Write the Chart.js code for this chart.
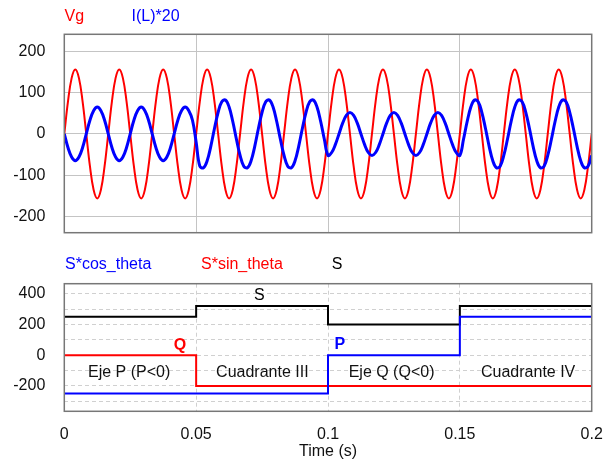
<!DOCTYPE html>
<html>
<head>
<meta charset="utf-8">
<script src="https://cdn.jsdelivr.net/npm/chart.js@4"></script>
<style>
  body { margin: 0; background: #fff; }
  canvas { position: absolute; left: 0; }
  #top { top: 0; }
  #bottom { top: 245px; }
</style>
</head>
<body>
<canvas id="top" width="611" height="245"></canvas>
<canvas id="bottom" width="611" height="219"></canvas>

<script>
// waveforms, 12 samples per 60 Hz cycle
const SAMPLE_RATE = 720; // samples per second
const VG = [
  0, 78, 135, 156, 135, 78, 0, -78, -135, -156, -135, -78,
  0, 78, 135, 156, 135, 78, 0, -78, -135, -156, -135, -78,
  0, 78, 135, 156, 135, 78, 0, -78, -135, -156, -135, -78,
  0, 78, 135, 156, 135, 78, 0, -78, -135, -156, -135, -78,
  0, 78, 135, 156, 135, 78, 0, -78, -135, -156, -135, -78,
  0, 78, 135, 156, 135, 78, 0, -78, -135, -156, -135, -78,
  0, 78, 135, 156, 135, 78, 0, -78, -135, -156, -135, -78,
  0, 78, 135, 156, 135, 78, 0, -78, -135, -156, -135, -78,
  0, 78, 135, 156, 135, 78, 0, -78, -135, -156, -135, -78,
  0, 78, 135, 156, 135, 78, 0, -78, -135, -156, -135, -78,
  0, 78, 135, 156, 135, 78, 0, -78, -135, -156, -135, -78,
  0, 78, 135, 156, 135, 78, 0, -78, -135, -156, -135, -78,
  0
];
const IL20 = [
  0, -33, -56, -65, -56, -33, 0, 33, 56, 65, 56, 33,
  0, -33, -56, -65, -56, -33, 0, 33, 56, 65, 56, 33,
  0, -33, -56, -65, -56, -33, 0, 33, 56, 65, 56, 33,
  -20, -78, -82, -65, -30, 13, 52, 78, 82, 65, 30, -13,
  -52, -78, -82, -65, -30, 13, 52, 78, 82, 65, 30, -13,
  -52, -78, -82, -65, -30, 13, 52, 78, 82, 65, 30, -13,
  -52, -45, -26, 0, 26, 45, 52, 45, 26, 0, -26, -45,
  -52, -45, -26, 0, 26, 45, 52, 45, 26, 0, -26, -45,
  -52, -45, -26, 0, 26, 45, 52, 45, 26, 0, -26, -45,
  -52, -13, 30, 65, 82, 78, 52, 13, -30, -65, -82, -78,
  -52, -13, 30, 65, 82, 78, 52, 13, -30, -65, -82, -78,
  -52, -13, 30, 65, 82, 78, 52, 13, -30, -65, -82, -78,
  -52
];
const TOP_Y_TICKS = [-200, -100, 0, 100, 200];
const TIME_TICKS = [0, 0.05, 0.1, 0.15, 0.2];

// power steps
const STEP_TIMES = [0, 0.05, 0.1, 0.15, 0.2];
const S_COS = [-250, -250, 0, 250, 250];
const S_SIN = [0, -200, -200, -200, -200];
const S_ABS = [250, 320, 200, 320, 320];
const BOTTOM_GRID = [-300, -200, -100, 0, 100, 200, 300, 400];
const BOTTOM_Y_LABELS = [-200, 0, 200, 400];
const REGIONS = ['Eje P (P<0)', 'Cuadrante III', 'Eje Q (Q<0)', 'Cuadrante IV'];

// layout
const FONT = '16px "Liberation Sans", Arial, sans-serif';
const RED = '#ff0000', BLUE = '#0000ff', BLACK = '#000000';
const GRID = '#c4c4c4';
const REGION_POS = [[0.0246, -142], [0.0751, -142], [0.1241, -142], [0.1759, -142]];

Chart.defaults.font.family = '"Liberation Sans", Arial, sans-serif';
Chart.defaults.font.size = 16;
Chart.defaults.color = '#111';

const texts = {
  id: 'texts',
  afterDraw(chart, args, opts) {
    const ctx = chart.ctx;
    const sx = chart.scales.x, sy = chart.scales.y;
    const a = chart.chartArea;
    ctx.save();
    (opts.notes || []).forEach(n => {
      ctx.font = (n.bold ? 'bold ' : '') + FONT;
      ctx.fillStyle = n.color;
      ctx.textAlign = 'center';
      ctx.textBaseline = 'alphabetic';
      ctx.fillText(n.text, sx.getPixelForValue(n.t), sy.getPixelForValue(n.v));
    });
    ctx.strokeStyle = '#777';
    ctx.lineWidth = 1.5;
    ctx.strokeRect(a.left, a.top, a.right - a.left, a.bottom - a.top);
    (opts.header || []).forEach(h => {
      ctx.font = FONT;
      ctx.fillStyle = h.color;
      ctx.textAlign = 'left';
      ctx.textBaseline = 'alphabetic';
      ctx.fillText(h.text, h.x, h.y);
    });
    ctx.restore();
  }
};

const wave = vals => vals.map((v, i) => ({x: i / SAMPLE_RATE, y: v}));
const steps = vals => vals.map((v, i) => ({x: STEP_TIMES[i], y: v}));

new Chart(document.getElementById('top'), {
  type: 'line',
  data: {
    datasets: [
      {label: 'Vg', data: wave(VG), borderColor: RED, borderWidth: 2, tension: 0.4, pointRadius: 0, order: 1},
      {label: 'I(L)*20', data: wave(IL20), borderColor: BLUE, borderWidth: 3, tension: 0.4, pointRadius: 0, order: 0}
    ]
  },
  plugins: [texts],
  options: {
    responsive: false,
    animation: false,
    events: [],
    layout: {padding: {top: 34.3, right: 19.3, bottom: 12.3, left: 0}},
    plugins: {
      legend: {display: false},
      tooltip: {enabled: false},
      texts: {
        header: [
          {text: 'Vg', color: RED, x: 64.5, y: 20.5},
          {text: 'I(L)*20', color: BLUE, x: 131.5, y: 20.5}
        ]
      }
    },
    scales: {
      x: {
        type: 'linear', min: 0, max: 0.2,
        afterBuildTicks: s => { s.ticks = TIME_TICKS.map(v => ({value: v})); },
        afterFit: s => { s.height = 0; },
        grid: {color: GRID, drawTicks: false},
        border: {display: false},
        ticks: {display: false}
      },
      y: {
        min: -239, max: 241,
        afterBuildTicks: s => { s.ticks = TOP_Y_TICKS.map(v => ({value: v})); },
        afterFit: s => { s.width = 64.3; },
        grid: {color: GRID, drawTicks: true, tickLength: 19, tickColor: 'transparent'},
        border: {display: false},
        ticks: {padding: 0, autoSkip: false}
      }
    }
  }
});

new Chart(document.getElementById('bottom'), {
  type: 'line',
  data: {
    datasets: [
      {label: 'S*cos_theta', data: steps(S_COS), borderColor: BLUE, borderWidth: 2, stepped: true, pointRadius: 0, order: 0},
      {label: 'S*sin_theta', data: steps(S_SIN), borderColor: RED, borderWidth: 2, stepped: true, pointRadius: 0, order: 1},
      {label: 'S', data: steps(S_ABS), borderColor: BLACK, borderWidth: 2, stepped: true, pointRadius: 0, order: 2}
    ]
  },
  plugins: [texts],
  options: {
    responsive: false,
    animation: false,
    events: [],
    layout: {padding: {top: 38.7, right: 19.3, bottom: 0, left: 0}},
    plugins: {
      legend: {display: false},
      tooltip: {enabled: false},
      texts: {
        header: [
          {text: 'S*cos_theta', color: BLUE, x: 65, y: 24.3},
          {text: 'S*sin_theta', color: RED, x: 201, y: 24.3},
          {text: 'S', color: BLACK, x: 331.7, y: 24.3}
        ],
        notes: [
          {text: 'S', color: BLACK, t: 0.074, v: 356},
          {text: 'Q', color: RED, t: 0.0439, v: 36, bold: true},
          {text: 'P', color: BLUE, t: 0.1045, v: 37, bold: true}
        ].concat(REGIONS.map((r, i) => ({text: r, color: '#111', t: REGION_POS[i][0], v: REGION_POS[i][1]})))
      }
    },
    scales: {
      x: {
        type: 'linear', min: 0, max: 0.2,
        afterBuildTicks: s => { s.ticks = TIME_TICKS.map(v => ({value: v})); },
        afterFit: s => { s.height = 52.7; },
        grid: {color: '#d0d0d0', drawTicks: true, tickLength: 14, tickColor: 'transparent'},
        border: {display: false, dash: [4, 3]},
        ticks: {padding: 0, maxRotation: 0, autoSkip: false, callback: v => String(v)},
        title: {display: true, text: 'Time (s)', padding: {top: 0, bottom: 3}}
      },
      y: {
        min: -365, max: 465,
        afterBuildTicks: s => { s.ticks = BOTTOM_GRID.map(v => ({value: v})); },
        afterFit: s => { s.width = 64.3; },
        grid: {color: '#d0d0d0', drawTicks: true, tickLength: 19, tickColor: 'transparent'},
        border: {display: false, dash: [4, 3]},
        ticks: {padding: 0, autoSkip: false, callback: v => BOTTOM_Y_LABELS.includes(v) ? String(v) : ''}
      }
    }
  }
});
</script>
</body>
</html>
